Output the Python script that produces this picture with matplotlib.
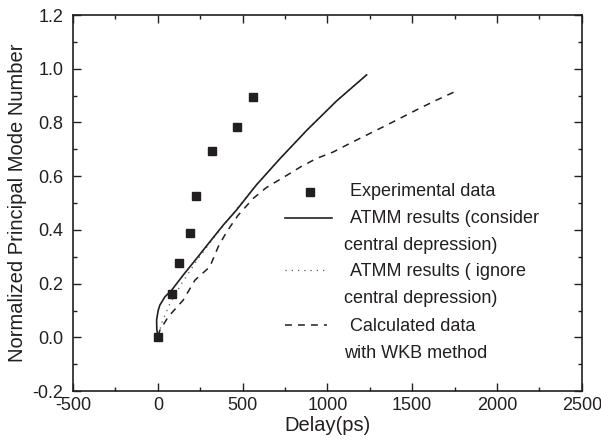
import matplotlib as mpl
mpl.use('Agg')
import matplotlib.pyplot as plt
from matplotlib.ticker import MultipleLocator

plt.rcParams['font.family'] = ['Liberation Sans', 'DejaVu Sans']
plt.rcParams['axes.unicode_minus'] = False

# experimental points
exp_delay = [0, 85, 125, 187, 223, 317, 468, 563]
exp_mode = [0.0, 0.16, 0.275, 0.388, 0.526, 0.695, 0.784, 0.893]

# ATMM, considering central depression
atmm_c_delay = [2, -6, -7, 2, 12, 42, 82, 150, 229, 307, 386, 464, 582, 720, 877, 1054, 1231]
atmm_c_mode = [0.0, 0.03, 0.065, 0.10, 0.12, 0.151, 0.176, 0.232, 0.294, 0.356,
               0.418, 0.474, 0.568, 0.665, 0.77, 0.88, 0.977]

# ATMM, ignoring central depression
atmm_i_delay = [5, 22, 72, 140, 219, 307, 396, 484, 582, 720, 877, 1054, 1231]
atmm_i_mode = [0.01, 0.052, 0.127, 0.20, 0.276, 0.352, 0.425, 0.493,
               0.568, 0.665, 0.77, 0.88, 0.977]

# WKB calculation
wkb_delay = [0, 13, 62, 150, 219, 307, 356, 406, 474, 562, 641, 739,
             843, 936, 1034, 1132, 1231, 1349, 1427, 1545, 1643, 1770]
wkb_mode = [0.005, 0.027, 0.077, 0.139, 0.213, 0.263, 0.337, 0.393, 0.455, 0.517,
            0.558, 0.595, 0.635, 0.666, 0.69, 0.722, 0.753, 0.79,
            0.815, 0.853, 0.883, 0.92]

legend_labels = ['Experimental data',
                 'ATMM results (consider', 'central depression)',
                 'ATMM results ( ignore', 'central depression)',
                 'Calculated data', 'with WKB method']

ink = '#231f20'

fig = plt.figure(figsize=(6.01, 4.48), dpi=100)
ax = fig.add_axes([0.1215, 0.127, 0.8465, 0.8395])

ax.plot(atmm_i_delay, atmm_i_mode, color='#555555', lw=0.9, linestyle=(0, (1, 4)))
ax.plot(wkb_delay, wkb_mode, color=ink, lw=1.1, linestyle=(0, (4.5, 4)))
ax.plot(atmm_c_delay, atmm_c_mode, color=ink, lw=1.2)
ax.plot(exp_delay, exp_mode, 's', color=ink, ms=6, clip_on=False)

ax.set_xlim(-500, 2500)
ax.set_ylim(-0.2, 1.2)
ax.xaxis.set_major_locator(MultipleLocator(500))
ax.xaxis.set_minor_locator(MultipleLocator(250))
ax.yaxis.set_major_locator(MultipleLocator(0.2))
ax.yaxis.set_minor_locator(MultipleLocator(0.1))
ax.yaxis.set_major_formatter(mpl.ticker.FormatStrFormatter('%.1f'))
ax.tick_params(which='both', direction='in', top=True, right=True, colors=ink,
               labelsize=13, width=1.0)
ax.tick_params(which='major', length=5.5, pad=4)
ax.tick_params(which='minor', length=3)
ax.tick_params(axis='y', pad=7)
for s in ax.spines.values():
    s.set_linewidth(1.2)
    s.set_color(ink)

ax.set_xlabel('Delay(ps)', fontsize=14.5, color=ink, labelpad=2)
ax.set_ylabel('Normalized Principal Mode Number', fontsize=14.5, color=ink, labelpad=4)

# hand-placed legend, as in the original figure
tr = ax.transAxes
ax.plot([0.465], [0.530], 's', color=ink, ms=6, transform=tr)
ax.plot([0.416, 0.510], [0.461, 0.461], color=ink, lw=1.2, transform=tr)
ax.plot([0.416, 0.500], [0.322, 0.322], color='#555555', lw=0.9,
        linestyle=(0, (1, 4)), transform=tr)
ax.plot([0.416, 0.500], [0.176, 0.176], color=ink, lw=1.1,
        linestyle=(0, (4.5, 4)), transform=tr)
text_x = [0.5435, 0.5435, 0.532, 0.5435, 0.532, 0.5435, 0.532]
text_y = [0.530, 0.460, 0.388, 0.319, 0.245, 0.173, 0.101]
for lab, tx, ty in zip(legend_labels, text_x, text_y):
    ax.text(tx, ty, lab, transform=tr, fontsize=13, color=ink, va='center', ha='left')

fig.savefig('out.png', dpi=100)
